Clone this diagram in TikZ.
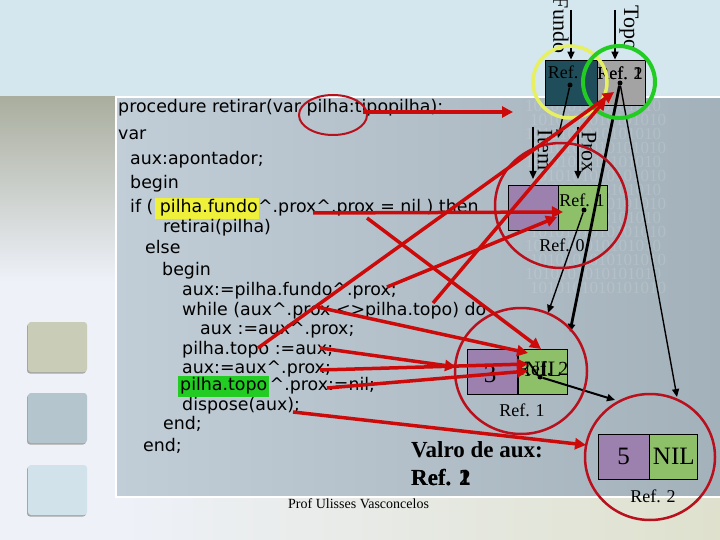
\documentclass[tikz,border=0pt]{standalone}
\usepackage{fontspec}
\setmainfont{Liberation Serif}
\newfontfamily\codefont{DejaVu Sans}
\usepackage{tikz}
\usetikzlibrary{arrows.meta, positioning, calc}
\definecolor{bandblue}{HTML}{D4E6EE}
\definecolor{paperwhite}{HTML}{EEF1F8}
\definecolor{panelleft}{HTML}{C2CED7}
\definecolor{panelright}{HTML}{A3B1BA}
\definecolor{olivetop}{HTML}{A9AE9F}
\definecolor{olivedark}{HTML}{5C5F52}
\definecolor{fundoteal}{HTML}{1F4E5A}
\definecolor{topogray}{HTML}{A3A3A3}
\definecolor{itempurple}{HTML}{9C80AE}
\definecolor{proxgreen}{HTML}{8EC06A}
\definecolor{hlyellow}{HTML}{EEF03A}
\definecolor{hlgreen}{HTML}{22CC22}
\definecolor{arrowred}{HTML}{CC0A0A}
\definecolor{ringred}{HTML}{B8101C}
\definecolor{ringyellow}{HTML}{E6F060}
\definecolor{ringgreen}{HTML}{22CC22}

\begin{document}
\begin{tikzpicture}[x=1pt, y=-1pt,
  code/.style={anchor=west, inner sep=0pt, text height=13pt, text depth=4pt, font=\codefont\fontsize{17.4}{20}\selectfont},
  cell/.style={draw=black, line width=0.8pt, minimum width=50pt, minimum height=45pt, inner sep=0pt},
  reftxt/.style={font=\fontsize{18}{20}\selectfont, inner sep=0pt},
  bigtxt/.style={font=\fontsize{25}{28}\selectfont, inner sep=0pt},
  side/.style={rotate=-90, font=\fontsize{22}{24}\selectfont, inner sep=0pt},
  ptr/.style={draw=black, line width=1.4pt, -{Triangle[length=8pt, width=7pt]}},
  redarrow/.style={draw=arrowred, line width=3.5pt, -{Triangle[length=11pt, width=11pt]}},
  ring/.style={draw=ringred, line width=2.5pt},
  dot/.style={circle, fill=black, inner sep=0pt, minimum size=5pt}]
\clip (0,0) rectangle (720,540);
\fill[paperwhite] (0,0) rectangle (720,540);
\fill[bandblue] (0,0) rectangle (720,97);
\shade[top color=olivetop, middle color=olivedark, bottom color=paperwhite] (0,97) rectangle (115,282);
\shade[left color=panelleft, right color=panelright] (115,97) rectangle (720,497);
\shade[left color=paperwhite, right color=black!8!paperwhite!90!yellow] (115,497) rectangle (720,540);
\draw[white, line width=2pt] (115,97) -- (720,97);
\draw[white, line width=2pt] (115,497) -- (720,497);
\draw[white, line width=1.5pt] (116,97) -- (116,497);
\foreach \row in {0,...,13} {\node[white, opacity=0.14, font=\fontsize{17}{17}\selectfont, anchor=west, inner sep=0pt] at ({525+mod(\row,2)*5},{106+\row*14}) {1010101010101010};}
\foreach \y/\c in {322/C9CDB8, 393/B5C5CD, 465/D2E2EA} {
  \fill[black!35, rounded corners=3pt] (27,\y+1.5) rectangle (86,\y+51.5);
  \definecolor{sq}{HTML}{\c}
  \fill[sq, rounded corners=3pt] (28,\y) rectangle (87,\y+50);
}

\fill[hlyellow] (155,198) rectangle (259,219);
\foreach \n/\x/\y/\t in {l1/118/108/{procedure retirar(var pilha:tipopilha);}, l2/118/135/{var}, l3/130/160/{aux:apontador;}, l4/130/184/{begin}, l6/163/228/{retirai(pilha)}, l7/145/249/{else}, l8/162/271/{begin}, l9/182/291/{aux:=pilha.fundo\textasciicircum.prox;}, l10/182/311/{while (aux\textasciicircum.prox <>pilha.topo) do}, l11/200/330/{aux :=aux\textasciicircum.prox;}, l12/182/350/{pilha.topo :=aux;}, l13/182/369/{aux:=aux\textasciicircum.prox;}, l15/182/406/{dispose(aux);}, l16/163/425/{end;}, l17/143/447/{end;}}
  {\node[code] (\n) at (\x,\y) {\t};}
\node[code] (l5) at (130,208) {if (};
\node[code, right=6pt of l5] (l5fundo) {pilha.fundo};
\node[code, right=0pt of l5fundo] (l5rest) {\textasciicircum.prox\textasciicircum.prox = nil ) then};
\node[code, fill=hlgreen, inner xsep=2pt, text height=15pt, text depth=6pt] (l14topo) at (178,386) {pilha.topo};
\node[code, right=0pt of l14topo] (l14rest) {\textasciicircum.prox:=nil;};

\node[font=\bfseries\fontsize{23}{26}\selectfont, anchor=west, inner sep=0pt] (valro) at (411,450) {Valro de aux:};
\node[font=\bfseries\fontsize{23}{26}\selectfont, anchor=west, inner sep=0pt] (valref1) at (411,478) {Ref. 1};
\node[font=\bfseries\fontsize{23}{26}\selectfont, anchor=west, inner sep=0pt] (valref2) at (411,478) {Ref. 2};
\node[font=\fontsize{14}{16}\selectfont, anchor=west, inner sep=0pt] (prof) at (288,504) {Prof Ulisses Vasconcelos};

\node[cell, fill=fundoteal, minimum width=52pt] (fundobox) at (571,82.5) {};
\node[cell, fill=topogray, minimum width=48pt, right=0pt of fundobox] (topobox) {};
\node[reftxt] (fundoref) at (563,72) {Ref.};
\node[reftxt] (toporef1) at (620,73) {Ref. 1};
\node[reftxt] (toporef2) at (620,73) {Ref. 2};
\node[dot] (fundodot) at (570,85) {};
\node[dot] (topodot) at (620,83) {};
\node[side] (fundolbl) at (561,25) {Fundo};
\node[side] (topolbl) at (629,28) {Topo};
\coordinate (fundoin) at (571,10);
\coordinate (topoin) at (615,10);
\draw[ptr] (fundoin) -- (fundoin |- fundobox.north);
\draw[ptr] (topoin) -- (topoin |- topobox.north);

\node[cell, fill=itempurple] (item1) at (533,207.5) {};
\node[cell, fill=proxgreen, minimum width=49pt, right=0pt of item1] (prox1) {};
\node[reftxt] (prox1ref) at (582,200) {Ref. 1};
\node[dot] (prox1dot) at (584,210) {};
\node[reftxt] (node1ref) at (562,245) {Ref. 0};
\node[side] (itemlbl) at (545,150) {Item};
\node[side] (proxlbl) at (589,152) {Prox};
\coordinate (itemin) at (533,127);
\coordinate (proxin) at (578,127);
\draw[ptr] (itemin) -- ++(0,52);
\draw[ptr] (proxin) -- ++(0,52);

\node[cell, fill=itempurple] (item2) at (492.5,371.5) {};
\node[cell, fill=proxgreen, minimum width=49pt, right=0pt of item2] (prox2) {};
\node[bigtxt] (item2val) at (490,374) {3};
\node[font=\fontsize{22}{24}\selectfont, inner sep=0pt] (prox2nil) at (543,369) {NIL};
\node[reftxt, font=\fontsize{20}{22}\selectfont] (prox2ref) at (543,369) {Ref. 2};
\node[dot] (prox2dot) at (540,377) {};
\node[reftxt] (node2ref) at (522,410) {Ref. 1};

\node[cell, fill=itempurple, minimum width=51pt] (item3) at (623.5,456.5) {};
\node[cell, fill=proxgreen, minimum width=48pt, right=0pt of item3] (prox3) {};
\node[bigtxt] (item3val) at (item3) {5};
\node[bigtxt] (prox3nil) at (prox3) {NIL};
\node[reftxt] (node3ref) at (653,496) {Ref. 2};

\coordinate (ring1top) at (558,138);
\coordinate (ring2a) at (548,313);
\coordinate (ring2b) at (570,332);
\coordinate (ring3a) at (677,397);
\coordinate (ring3b) at (615,400);
\draw[ptr] (fundodot) -- (ring1top);
\draw[ptr, line width=2.8pt] (topodot) -- (ring2b);
\draw[ptr] (topodot) -- (ring3a);
\draw[ptr] (prox1dot) -- (ring2a);
\draw[ptr, line width=2pt] (prox2dot) -- (ring3b);

\draw[ring] (561,205.5) ellipse [x radius=66pt, y radius=62.5pt];
\draw[ring] (521,371) ellipse [x radius=66pt, y radius=63pt];
\draw[ring] (650,457) ellipse [x radius=65pt, y radius=63pt];
\draw[ring, line width=2pt] (333,115) ellipse [x radius=34pt, y radius=20pt];
\draw[ringyellow, line width=3.5pt] (570,82) ellipse [x radius=37pt, y radius=36pt];
\draw[ringgreen, line width=4pt] (619,82) ellipse [x radius=36pt, y radius=36pt];

\coordinate (sTipo) at (363,112);   \coordinate (eTipo) at (513,112);
\coordinate (sFundo) at (313,213);  \coordinate (eFundo) at (563,212);
\coordinate (sProxProx) at (367,218); \coordinate (eProxProx) at (541,349);
\coordinate (sAuxFundo) at (387,287); \coordinate (eAuxFundo) at (557,217);
\coordinate (sWhileTopo) at (433,303); \coordinate (eWhileTopo) at (606,99);
\coordinate (sTopoAux) at (258,348); \coordinate (eTopoAux) at (614,92);
\coordinate (sWhileAux) at (317,307); \coordinate (eWhileAux) at (528,353);
\coordinate (sAuxSemi) at (320,348); \coordinate (eAuxSemi) at (456,367);
\coordinate (sAuxAux) at (320,370); \coordinate (eAuxAux) at (528,364);
\coordinate (sNil) at (327,388); \coordinate (eNil) at (528,371);
\coordinate (sDispose) at (293,412); \coordinate (eDispose) at (586,445);
\foreach \a in {Tipo, Fundo, ProxProx, AuxFundo, WhileTopo, TopoAux, WhileAux, AuxSemi, AuxAux, Nil, Dispose}
  {\draw[redarrow] (s\a) -- (e\a);}
\end{tikzpicture}
\end{document}
